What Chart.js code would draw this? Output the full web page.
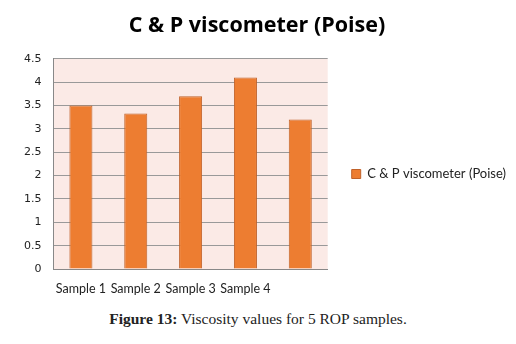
<!DOCTYPE html>
<html>
<head>
<meta charset="utf-8">
<script src="https://cdn.jsdelivr.net/npm/chart.js@4.4.1/dist/chart.umd.min.js"></script>
<style>
  html, body { margin: 0; padding: 0; background: #fff; }
  #wrap { position: relative; width: 516px; height: 344px; }
  #box { position: absolute; left: 0; top: 0; width: 516px; height: 300px; }
  #caption {
    position: absolute; left: 0; top: 310px; width: 516px; text-align: center;
    font-family: "Liberation Serif", "DejaVu Serif", serif; font-size: 15.5px; color: #222;
  }
</style>
</head>
<body>
<div id="wrap">
  <div id="box"><canvas id="chart"></canvas></div>
  <div id="caption"><b>Figure 13:</b> Viscosity values for 5 ROP samples.</div>
</div>
<script>
const samples = ['Sample 1', 'Sample 2', 'Sample 3', 'Sample 4', 'Sample 5'];
const viscosity = [3.5, 3.33, 3.7, 4.1, 3.2];
const yTicks = [0, 0.5, 1, 1.5, 2, 2.5, 3, 3.5, 4, 4.5];

// pink fill behind the plot area
const plotBg = {
    id: 'plotBg',
    beforeDraw(chart) {
        const { ctx, chartArea: a } = chart;
        ctx.save();
        ctx.fillStyle = '#FBEAE6';
        ctx.fillRect(a.left, a.top, a.right - a.left, a.bottom - a.top);
        ctx.restore();
    }
};

// move the legend down and a bit to the right, away from the plot
const legendShift = {
    id: 'legendShift',
    afterLayout(chart) {
        const lg = chart.legend;
        lg.top += 24;
        lg.bottom += 24;
        lg.left += 14;
        lg.right += 14;
        lg.adjustHitBoxes();
    }
};

const sans = 'Lato, "Open Sans", sans-serif';

new Chart(document.getElementById('chart').getContext('2d'), {
    type: 'bar',
    data: {
        labels: samples,
        datasets: [{
            label: 'C & P viscometer (Poise)',
            data: viscosity,
            backgroundColor: '#ED7D31',
            borderColor: '#C0622A',
            borderWidth: 1,
            barPercentage: 0.42,
            categoryPercentage: 1.0
        }]
    },
    options: {
        responsive: true,
        maintainAspectRatio: false,
        animation: false,
        layout: { padding: { left: 12, right: 14, top: 0, bottom: 0 } },
        plugins: {
            title: {
                display: true,
                text: 'C & P viscometer (Poise)',
                color: '#000',
                font: { family: '"Open Sans", sans-serif', size: 21.5, weight: 'bold' },
                padding: { top: 13, bottom: 20 }
            },
            legend: {
                position: 'right',
                maxWidth: 260,
                labels: {
                    boxWidth: 9, boxHeight: 9, padding: 10,
                    color: '#222',
                    font: { family: sans, size: 13 }
                }
            },
            tooltip: { enabled: false }
        },
        scales: {
            y: {
                min: 0, max: 4.5,
                afterBuildTicks: axis => { axis.ticks = yTicks.map(v => ({ value: v })); },
                grid: { color: '#999', drawTicks: false },
                border: { color: '#888' },
                ticks: {
                    padding: 12, color: '#222',
                    font: { family: '"DejaVu Sans", sans-serif', size: 11 },
                    callback: v => String(v)
                }
            },
            x: {
                grid: { display: false },
                border: { color: '#888' },
                ticks: {
                    autoSkip: false, maxRotation: 0, padding: 4, color: '#222',
                    font: { family: sans, size: 12.5 },
                    // the last category name is not printed under its bar
                    callback: (v, i) => i === samples.length - 1 ? '' : samples[i]
                }
            }
        }
    },
    plugins: [plotBg, legendShift]
});
</script>
</body>
</html>
